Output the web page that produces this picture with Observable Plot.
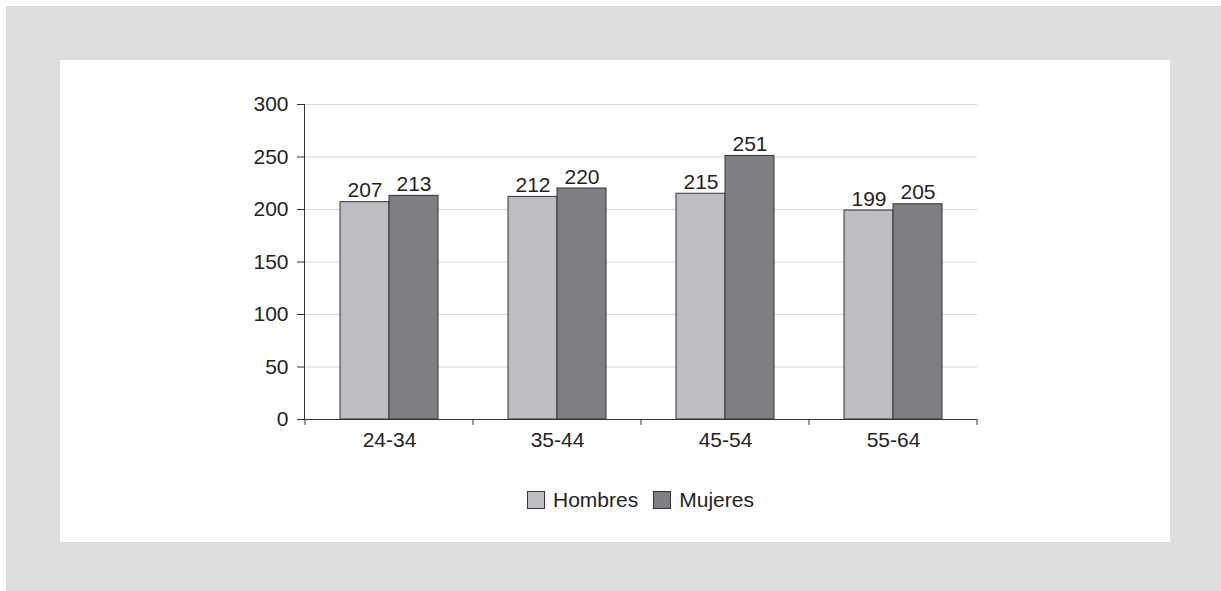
<!DOCTYPE html>
<html>
<head>
<meta charset="utf-8">
<script src="https://cdn.jsdelivr.net/npm/d3@7"></script>
<script src="https://cdn.jsdelivr.net/npm/@observablehq/plot@0.6"></script>
<style>
  html, body { margin: 0; padding: 0; background: #ffffff; }
  #bg { position: absolute; left: 6px; top: 6px; width: 1215px; height: 585px; background: #dcdddf; }
  #panel { position: absolute; left: 60px; top: 60px; width: 1110px; height: 482px; background: #ffffff;
           font-family: "Liberation Sans", Arial, Helvetica, sans-serif; color: #231f20; }
  #chart { position: absolute; left: 0; top: 0; }
  #legend { position: absolute; left: 467px; top: 428px; display: flex; align-items: center; font-size: 21px; white-space: nowrap; }
  .sw { display: inline-block; width: 16px; height: 16px; border: 1px solid #333; box-sizing: content-box; margin-right: 8px; }
  .item { display: flex; align-items: center; margin-right: 15px; }
</style>
</head>
<body>
<div id="bg"></div>
<div id="panel">
  <div id="chart"></div>
  <div id="legend"></div>
</div>
<script>
const categories = ["24-34", "35-44", "45-54", "55-64"];
const series = ["Hombres", "Mujeres"];
const hombres = [207, 212, 215, 199];
const mujeres = [213, 220, 251, 205];
const yTicks = [0, 50, 100, 150, 200, 250, 300];
const colors = ["#bdbec2", "#7e7f83"];

const dataH = categories.map((c, i) => ({cat: c, serie: series[0], value: hombres[i]}));
const dataM = categories.map((c, i) => ({cat: c, serie: series[1], value: mujeres[i]}));

const ink = "#231f20";
const edge = "#333333";
const fs = 21;

// boundary ticks below the x axis, at band edges, computed from the x scale
function bandTicks(index, scales) {
  const x = scales.x, y = scales.y;
  const g = d3.create("svg:g").attr("stroke", edge);
  const pos = categories.map(c => x(c));
  pos.push(x(categories[categories.length - 1]) + x.bandwidth());
  const y0 = y(0);
  for (const p of pos) {
    g.append("line").attr("x1", p).attr("x2", p).attr("y1", y0).attr("y2", y0 + 6);
  }
  return g.node();
}

const chart = Plot.plot({
  width: 1110,
  height: 410,
  marginLeft: 244,
  marginRight: 193,
  marginTop: 44,
  marginBottom: 51,
  style: {fontFamily: "'Liberation Sans', Arial, Helvetica, sans-serif", fontSize: fs + "px", color: ink, background: "transparent"},
  x: {domain: categories, padding: 0},
  y: {domain: [0, 300]},
  color: {domain: series, range: colors},
  marks: [
    Plot.gridY(yTicks, {stroke: "#d8d8d8", strokeOpacity: 1}),
    Plot.barY(dataH, {x: "cat", y: "value", fill: "serie", stroke: edge, strokeWidth: 1, insetLeft: 35, insetRight: 84}),
    Plot.barY(dataM, {x: "cat", y: "value", fill: "serie", stroke: edge, strokeWidth: 1, insetLeft: 84, insetRight: 35}),
    Plot.text(dataH, {x: "cat", y: "value", text: d => String(d.value), dx: -24.5, dy: -5, lineAnchor: "bottom", fill: ink, fontSize: fs}),
    Plot.text(dataM, {x: "cat", y: "value", text: d => String(d.value), dx: 24.5, dy: -5, lineAnchor: "bottom", fill: ink, fontSize: fs}),
    Plot.ruleY([0], {stroke: edge}),
    Plot.frame({anchor: "left", stroke: edge, strokeOpacity: 1}),
    Plot.axisY(yTicks, {tickSize: 7, tickPadding: 9, stroke: edge, fill: ink, fontSize: fs, label: null}),
    Plot.axisX({tickSize: 0, tickPadding: 13, fill: ink, fontSize: fs, label: null}),
    bandTicks
  ]
});
document.getElementById("chart").appendChild(chart);

const legend = document.getElementById("legend");
series.forEach((s, i) => {
  const item = document.createElement("div");
  item.className = "item";
  const sw = document.createElement("span");
  sw.className = "sw";
  sw.style.background = colors[i];
  const lab = document.createElement("span");
  lab.textContent = s;
  item.appendChild(sw);
  item.appendChild(lab);
  legend.appendChild(item);
});
</script>
</body>
</html>
